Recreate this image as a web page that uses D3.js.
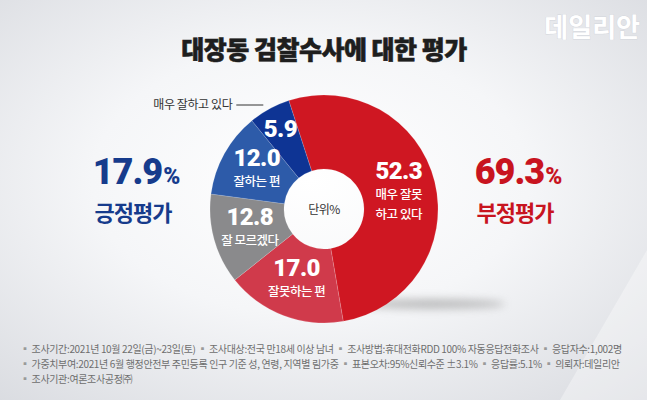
<!DOCTYPE html>
<html><head><meta charset="utf-8">
<script src="https://cdn.jsdelivr.net/npm/d3@7/dist/d3.min.js"></script>
<style>
html,body{margin:0;padding:0;background:#e6e8ec;}
svg{display:block;}
text{font-family:"Noto Sans CJK KR","Noto Sans",sans-serif;}
text.num{font-family:Roboto,"Noto Sans",sans-serif;}
</style></head>
<body>
<script>
// ---- data ----
const title = "대장동 검찰수사에 대한 평가";
const categories = ["매우 잘못하고 있다", "잘못하는 편", "잘 모르겠다", "잘하는 편", "매우 잘하고 있다"];
const values = [52.3, 17.0, 12.8, 12.0, 5.9];
const sliceSubLabels = [["매우 잘못", "하고 있다"], ["잘못하는 편"], ["잘 모르겠다"], ["잘하는 편"], []];
const summaryNames = ["긍정평가", "부정평가"];
const summaryValues = [17.9, 69.3];
const centerNote = "단위%";
const calloutLabel = "매우 잘하고 있다";
const footnotes = [
  ["조사기간:2021년 10월 22일(금)~23일(토)", "조사대상:전국 만18세 이상 남녀", "조사방법:휴대전화RDD 100% 자동응답전화조사", "응답자수:1,002명"],
  ["가중치부여:2021년 6월 행정안전부 주민등록 인구 기준 성, 연령, 지역별 림가중", "표본오차:95%신뢰수준 ±3.1%", "응답률:5.1%", "의뢰자:데일리안"],
  ["조사기관:여론조사공정㈜"]
];
const brand = "데일리안";

// ---- styles ----
const sliceColors = ["#cf1722", "#d03a4b", "#8a8a8c", "#2d5ba9", "#0e3494"];
const W = 647, H = 400;
const cx = 324, cy = 209, rOuter = 114, rInner = 40;
const deg = Math.PI / 180;

const svg = d3.select("body").append("svg").attr("width", W).attr("height", H);
const defs = svg.append("defs");
const bg = defs.append("radialGradient").attr("id", "bg").attr("cx", 0.48).attr("cy", 0.45).attr("r", 0.75);
bg.append("stop").attr("offset", 0).attr("stop-color", "#ffffff");
bg.append("stop").attr("offset", 0.45).attr("stop-color", "#f5f6f8");
bg.append("stop").attr("offset", 1).attr("stop-color", "#d9dbe0");
const blur = defs.append("filter").attr("id", "blur").attr("x", "-50%").attr("y", "-200%").attr("width", "200%").attr("height", "500%");
blur.append("feGaussianBlur").attr("stdDeviation", 4);

svg.append("rect").attr("width", W).attr("height", H).attr("fill", "url(#bg)");
// light diagonal band bottom right
svg.append("path").attr("d", `M${W} 250 L${W} ${H} L560 ${H} Z`).attr("fill", "#ffffff").attr("opacity", 0.35);

// brand
svg.append("text").attr("x", 640).attr("y", 37).attr("text-anchor", "end")
  .attr("font-size", 26).attr("font-weight", 700).attr("fill", "#ffffff")
  .attr("stroke", "#d3d6dc").attr("stroke-width", 0.8).attr("paint-order", "stroke")
  .text(brand);

// title
svg.append("text").attr("x", 324).attr("y", 59).attr("text-anchor", "middle")
  .attr("font-size", 25).attr("font-weight", 900).attr("fill", "#1e1e1e")
  .attr("stroke", "#1e1e1e").attr("stroke-width", 0.6)
  .attr("letter-spacing", -0.5).text(title);

// shadow beneath donut
svg.append("ellipse").attr("cx", 430).attr("cy", 304).attr("rx", 75).attr("ry", 5)
  .attr("fill", "#8f8f8f").attr("opacity", 0.55).attr("filter", "url(#blur)");

// donut
const pie = d3.pie().sort(null).value(d => d).startAngle(-18 * deg).endAngle(342 * deg);
const arcs = pie(values);
const arc = d3.arc().innerRadius(rInner).outerRadius(rOuter);
const g = svg.append("g").attr("transform", `translate(${cx},${cy})`);
g.selectAll("path.slice").data(arcs).join("path").attr("class", "slice")
  .attr("d", arc).attr("fill", (d, i) => sliceColors[i])
  .attr("stroke", "#ffffff").attr("stroke-opacity", 0.25).attr("stroke-width", 0.6);

// slice labels
arcs.forEach((d, i) => {
  const subs = sliceSubLabels[i];
  const lr = subs.length ? 77 : 91;
  const [lx, ly] = d3.arc().innerRadius(lr).outerRadius(lr).centroid(d);
  const numBase = subs.length === 1 ? ly - 5 : subs.length === 2 ? ly - 12 : ly + 8;
  const t = g.append("g");
  t.append("text").attr("class", "num").attr("x", lx).attr("y", numBase).attr("text-anchor", "middle")
    .attr("font-size", 24).attr("font-weight", 900).attr("fill", "#fff")
    .attr("letter-spacing", -0.6).text(values[i].toFixed(1));
  subs.forEach((s, j) => {
    t.append("text").attr("x", lx).attr("y", numBase + 20 + j * 20).attr("text-anchor", "middle")
      .attr("font-size", 12.5).attr("font-weight", 500).attr("fill", "#fff")
      .attr("letter-spacing", -0.5).text(s);
  });
});

// center note
g.append("text").attr("x", 0).attr("y", 5).attr("text-anchor", "middle")
  .attr("font-size", 12).attr("fill", "#333").attr("letter-spacing", -0.5).text(centerNote);

// callout for smallest slice
const yCall = -104;
const xEdge = -Math.sqrt(rOuter * rOuter - yCall * yCall);
g.append("line").attr("x1", xEdge - 41).attr("x2", xEdge - 14).attr("y1", yCall).attr("y2", yCall)
  .attr("stroke", "#333").attr("stroke-width", 1);
g.append("text").attr("x", xEdge - 45).attr("y", yCall + 4).attr("text-anchor", "end")
  .attr("font-size", 12).attr("fill", "#333").attr("letter-spacing", -0.4).text(calloutLabel);

// summaries
const sumColors = ["#163b8c", "#c8141f"];
const sumX = [136, 518];
summaryValues.forEach((v, i) => {
  const t = svg.append("text").attr("class", "num").attr("x", sumX[i]).attr("y", 184).attr("text-anchor", "middle")
    .attr("font-weight", 900).attr("fill", sumColors[i]).attr("letter-spacing", -1);
  t.append("tspan").attr("font-size", 36).text(v.toFixed(1));
  t.append("tspan").attr("font-size", 23).attr("dx", 1).text("%");
  svg.append("text").attr("x", sumX[i] - 3).attr("y", 221).attr("text-anchor", "middle")
    .attr("font-size", 22).attr("font-weight", 700).attr("fill", sumColors[i])
    .attr("letter-spacing", -1).text(summaryNames[i]);
});

// footnotes
const fn = svg.append("g");
footnotes.forEach((line, li) => {
  const t = fn.append("text").attr("x", 20).attr("y", 353 + li * 15)
    .attr("font-size", 10).attr("fill", "#6e6e6e").attr("letter-spacing", -0.35);
  line.forEach((item, k) => {
    t.append("tspan").attr("fill", "#9a9a9a").text((k ? "   " : "") + "▪ ");
    t.append("tspan").text(item);
  });
});
</script>
</body></html>
